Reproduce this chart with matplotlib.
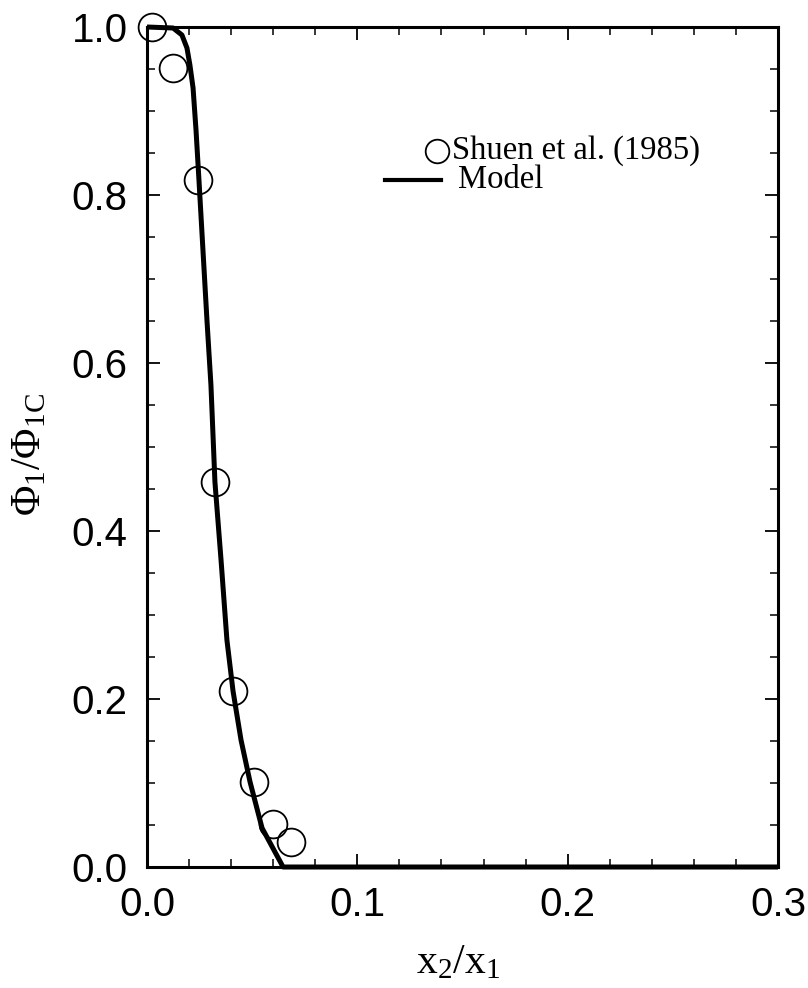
import matplotlib
matplotlib.use("Agg")
import matplotlib.pyplot as plt
from matplotlib.ticker import MultipleLocator, FormatStrFormatter

plt.rcParams["mathtext.fontset"] = "custom"
plt.rcParams["mathtext.rm"] = "Liberation Serif"
plt.rcParams["mathtext.it"] = "Liberation Serif"
plt.rcParams["mathtext.bf"] = "Liberation Serif:bold"

# Experimental data: Shuen et al. (1985)
exp_x = [0.0024, 0.0124, 0.0242, 0.0323, 0.0409, 0.0509, 0.0599, 0.0685]
exp_y = [1.0, 0.951, 0.818, 0.458, 0.2095, 0.101, 0.051, 0.030]

# Model curve
model_x = [0.0, 0.0124, 0.0166, 0.0190, 0.0204, 0.0219, 0.0233, 0.0247,
           0.0266, 0.0285, 0.0304, 0.0323, 0.0352, 0.0380, 0.0409, 0.0447,
           0.0490, 0.0547, 0.0647, 0.3]
model_y = [1.0, 0.9988, 0.9905, 0.975, 0.9548, 0.9274, 0.8774, 0.8179,
           0.7345, 0.6512, 0.5738, 0.4583, 0.3655, 0.2702, 0.2095, 0.1512,
           0.1012, 0.0464, 0.0, 0.0]

x_ticks = [0.0, 0.1, 0.2, 0.3]
y_ticks = [0.0, 0.2, 0.4, 0.6, 0.8, 1.0]

W, H = 808, 988
fig = plt.figure(figsize=(W / 100, H / 100), dpi=100)
ax = fig.add_axes([147 / W, 1 - 867 / H, (778 - 147) / W, (867 - 27) / H])

ax.plot(model_x, model_y, color="black", lw=3.6, solid_capstyle="butt",
        solid_joinstyle="round", zorder=2, clip_on=False)
ax.plot(exp_x, exp_y, linestyle="none", marker="o", markersize=20,
        markerfacecolor="none", markeredgecolor="black", markeredgewidth=1.3,
        zorder=3, clip_on=False)

ax.set_xlim(0, 0.3)
ax.set_ylim(0, 1.0)
ax.set_xticks(x_ticks)
ax.set_yticks(y_ticks)
ax.xaxis.set_minor_locator(MultipleLocator(0.02))
ax.yaxis.set_minor_locator(MultipleLocator(0.05))
ax.xaxis.set_major_formatter(FormatStrFormatter("%.1f"))
ax.yaxis.set_major_formatter(FormatStrFormatter("%.1f"))

for s in ax.spines.values():
    s.set_linewidth(2.2)

ax.tick_params(which="both", direction="in", top=True, right=True)
ax.tick_params(which="major", length=9.5, width=1.3, labelsize=29, pad=14)
ax.tick_params(which="minor", length=5.8, width=1.1)
for lab in ax.get_xticklabels() + ax.get_yticklabels():
    lab.set_fontfamily("Liberation Sans")

ax.set_xlabel(r"x$_2$/x$_1$", fontsize=30, family="Liberation Serif")
ax.xaxis.set_label_coords((458 - 147) / (778 - 147), -(963 - 867) / (867 - 27))
ax.set_ylabel(r"$\Phi_1/\Phi_{1C}$", fontsize=30, family="Liberation Serif")
ax.yaxis.set_label_coords(-(147 - 30) / (778 - 147), (867 - 455) / (867 - 27))
ax.xaxis.label.set_va("center")
ax.yaxis.label.set_va("center")

# legend (manual, matching original layout)
tr = fig.transFigure
fig.lines.append(plt.Line2D([437 / W], [1 - 151 / H], marker="o",
                            markersize=17, markerfacecolor="none",
                            markeredgecolor="black", markeredgewidth=1.3,
                            transform=tr))
fig.text(452 / W, 1 - 151 / H, "Shuen et al. (1985)", fontsize=23.5,
         family="Liberation Serif", va="center", ha="left")
fig.lines.append(plt.Line2D([385 / W, 441 / W], [1 - 180 / H, 1 - 180 / H],
                            color="black", lw=3.0, transform=tr))
fig.text(458 / W, 1 - 180 / H, "Model", fontsize=23.5,
         family="Liberation Serif", va="center", ha="left")

fig.savefig("out.png", dpi=100)
